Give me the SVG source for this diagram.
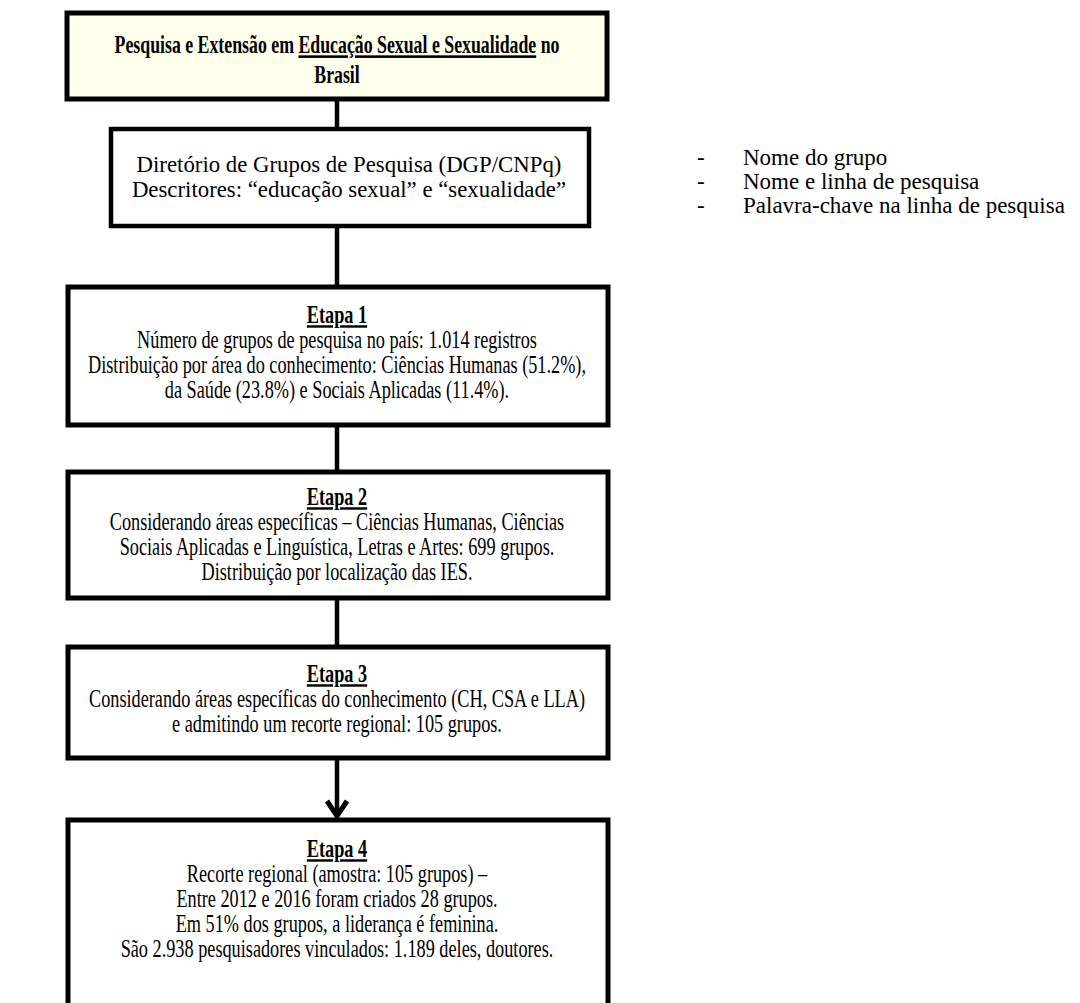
<svg xmlns="http://www.w3.org/2000/svg" width="1080" height="1003" viewBox="0 0 1080 1003">
<style>
.box{fill:#fff;stroke:#000;stroke-width:5}
.title{fill:#FFFFEC;stroke:#000;stroke-width:5}
.conn{stroke:#000;stroke-width:4.5;fill:none}
text{font-family:"Liberation Serif","Times New Roman",serif;fill:#000}
.t{font-size:24.5px;text-anchor:middle}
.tt{font-size:26px;text-anchor:middle;font-weight:bold}
.b{font-weight:bold}
.n{font-size:23px}
.u{text-decoration:underline}
</style>
<rect width="1080" height="1003" fill="#fff"/>
<g id="connectors">
<line class="conn" x1="337" y1="100" x2="337" y2="128"/>
<line class="conn" x1="337" y1="226" x2="337" y2="285"/>
<line class="conn" x1="337" y1="425" x2="337" y2="470"/>
<line class="conn" x1="337" y1="598" x2="337" y2="645"/>
<line class="conn" x1="337" y1="758" x2="337" y2="812"/>
<path d="M327 801 L337 816 L347 801" fill="none" stroke="#000" stroke-width="5" stroke-linejoin="miter"/>
</g>
<g id="title">
<rect class="title" x="67" y="13" width="540" height="86"/>
<g transform="translate(337,0) scale(0.685,1)">
<text class="tt" x="0" y="53">Pesquisa e Extensão em <tspan class="u">Educação Sexual e Sexualidade</tspan> no</text>
<text class="tt" x="0" y="83">Brasil</text>
</g>
</g>
<g id="dgp">
<rect x="111" y="129" width="478" height="97" fill="#fff" stroke="#000" stroke-width="4.5"/>
<text x="349" y="172" text-anchor="middle" style="font-size:22.8px">Diretório de Grupos de Pesquisa (DGP/CNPq)</text>
<text x="349" y="197" text-anchor="middle" style="font-size:22.8px">Descritores: “educação sexual” e “sexualidade”</text>
</g>
<g id="criteria">
<text class="n" x="697" y="165">-</text>
<text class="n" x="743" y="165">Nome do grupo</text>
<text class="n" x="697" y="189">-</text>
<text class="n" x="743" y="189">Nome e linha de pesquisa</text>
<text class="n" x="697" y="213">-</text>
<text class="n" x="743" y="213">Palavra-chave na linha de pesquisa</text>
</g>
<g id="etapa1">
<rect class="box" x="68" y="287" width="540" height="138"/>
<g transform="translate(337,0) scale(0.745,1)">
<text class="t b u" x="0" y="323">Etapa 1</text>
<text class="t" x="0" y="348">Número de grupos de pesquisa no país: 1.014 registros</text>
<text class="t" x="0" y="373">Distribuição por área do conhecimento: Ciências Humanas (51.2%),</text>
<text class="t" x="0" y="398">da Saúde (23.8%) e Sociais Aplicadas (11.4%).</text>
</g>
</g>
<g id="etapa2">
<rect class="box" x="68" y="472" width="540" height="126"/>
<g transform="translate(337,0) scale(0.745,1)">
<text class="t b u" x="0" y="505">Etapa 2</text>
<text class="t" x="0" y="530">Considerando áreas específicas – Ciências Humanas, Ciências</text>
<text class="t" x="0" y="555">Sociais Aplicadas e Linguística, Letras e Artes: 699 grupos.</text>
<text class="t" x="0" y="580">Distribuição por localização das IES.</text>
</g>
</g>
<g id="etapa3">
<rect class="box" x="68" y="647" width="540" height="111"/>
<g transform="translate(337,0) scale(0.745,1)">
<text class="t b u" x="0" y="682">Etapa 3</text>
<text class="t" x="0" y="707">Considerando áreas específicas do conhecimento (CH, CSA e LLA)</text>
<text class="t" x="0" y="732">e admitindo um recorte regional: 105 grupos.</text>
</g>
</g>
<g id="etapa4">
<rect class="box" x="68" y="820" width="540" height="200"/>
<g transform="translate(337,0) scale(0.745,1)">
<text class="t b u" x="0" y="857">Etapa 4</text>
<text class="t" x="0" y="882">Recorte regional (amostra: 105 grupos) –</text>
<text class="t" x="0" y="907">Entre 2012 e 2016 foram criados 28 grupos.</text>
<text class="t" x="0" y="932">Em 51% dos grupos, a liderança é feminina.</text>
<text class="t" x="0" y="957">São 2.938 pesquisadores vinculados: 1.189 deles, doutores.</text>
</g>
</g>
</svg>
